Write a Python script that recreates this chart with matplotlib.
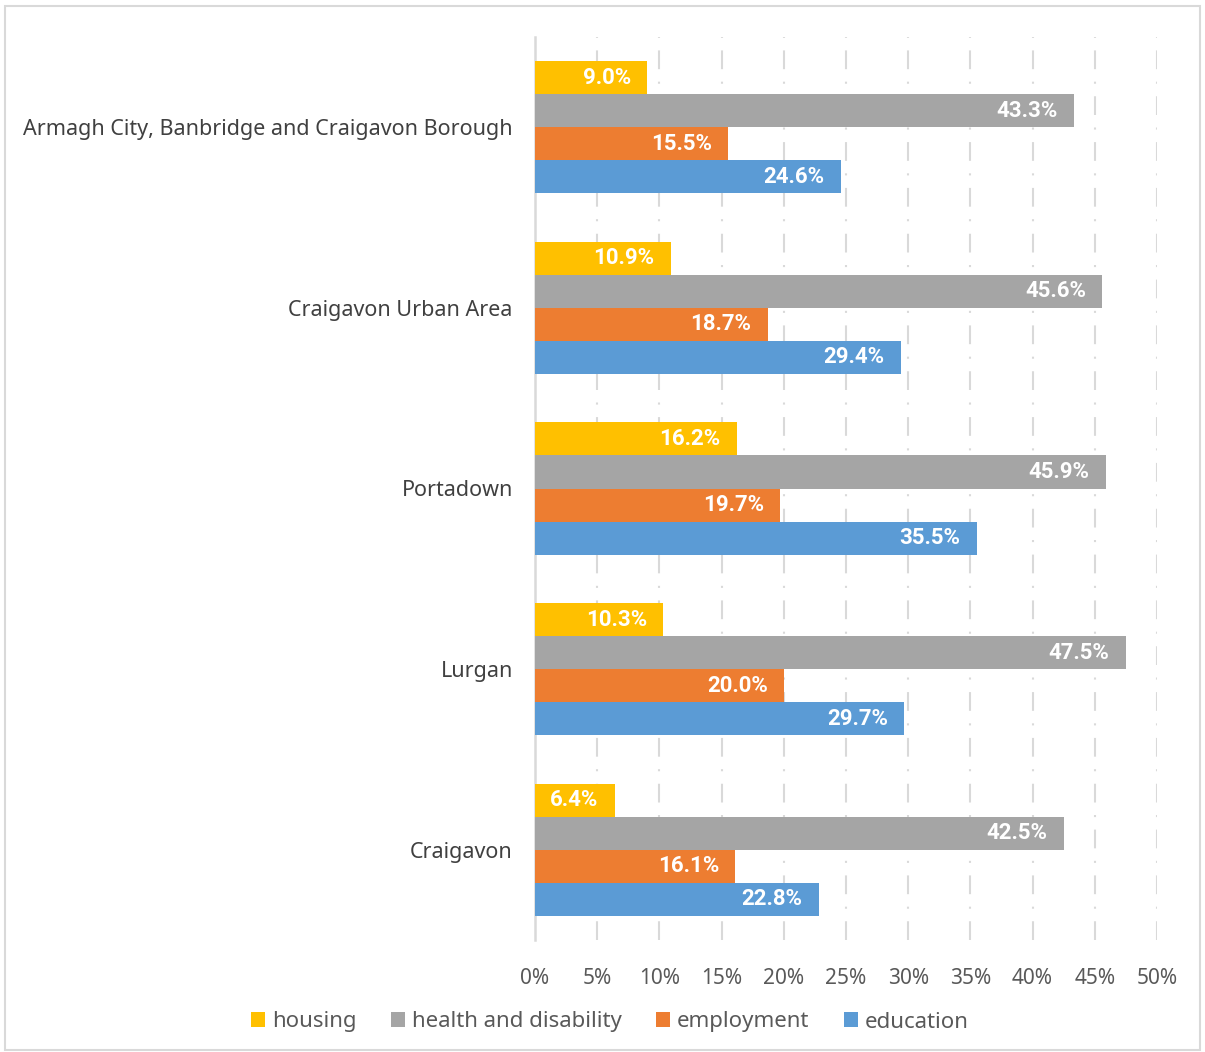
import matplotlib.pyplot as plt
import numpy as np
from matplotlib.patches import Rectangle

plt.rcParams['font.family'] = ['Noto Sans', 'DejaVu Sans']

areas = ['Armagh City, Banbridge and Craigavon Borough', 'Craigavon Urban Area',
         'Portadown', 'Lurgan', 'Craigavon']
series = ['housing', 'health and disability', 'employment', 'education']
housing = [9.0, 10.9, 16.2, 10.3, 6.4]
health = [43.3, 45.6, 45.9, 47.5, 42.5]
employment = [15.5, 18.7, 19.7, 20.0, 16.1]
education = [24.6, 29.4, 35.5, 29.7, 22.8]
colors = ['#ffc000', '#a5a5a5', '#ed7d31', '#5b9bd5']
ticks = [0, 5, 10, 15, 20, 25, 30, 35, 40, 45, 50]


def main():
    fig = plt.figure(figsize=(12.05, 10.52), dpi=100)
    fig.patches.append(Rectangle((5 / 1205, 2 / 1052), 1195 / 1205, 1044 / 1052,
                                 transform=fig.transFigure, fill=False,
                                 edgecolor='#d9d9d9', linewidth=1.5))
    ax = fig.add_axes([535 / 1205, 1 - 940 / 1052, 622 / 1205, 903 / 1052])

    values = [housing, health, employment, education]
    h = 0.183
    y = np.arange(len(areas))
    for i, (vals, col) in enumerate(zip(values, colors)):
        pos = y + (i - 1.5) * h
        bars = ax.barh(pos, vals, height=h, color=col, label=series[i], zorder=3)
        for b, v in zip(bars, vals):
            ax.text(v - 1.3, b.get_y() + b.get_height() / 2, f'{v:.1f}%',
                    ha='right', va='center', color='white', fontsize=16,
                    fontweight='bold', family=['Roboto', 'DejaVu Sans'], zorder=4)

    ax.set_ylim(len(areas) - 0.5, -0.5)
    ax.set_xlim(0, 50)
    ax.set_xticks(ticks)
    ax.set_xticklabels([f'{t}%' for t in ticks])
    ax.set_yticks(y)
    ax.set_yticklabels(areas)
    ax.tick_params(axis='x', length=0, pad=20, labelsize=15, labelcolor='#595959')
    ax.tick_params(axis='y', length=0, pad=16, labelsize=15.5, labelcolor='#404040')
    for t in ticks[1:]:
        ax.axvline(t, color='#d9d9d9', linewidth=1.5,
                   linestyle=(0, (9, 6, 1, 6)), zorder=1)
    for s in ['top', 'right', 'bottom']:
        ax.spines[s].set_visible(False)
    ax.spines['left'].set_color('#d9d9d9')
    ax.spines['left'].set_linewidth(1.8)

    fig.legend(loc='center', bbox_to_anchor=(0.506, 1 - 1022 / 1052), ncol=4,
               frameon=False, fontsize=16, handlelength=0.65, handleheight=0.65,
               handletextpad=0.3, columnspacing=1.55, labelcolor='#595959')

    fig.savefig('out.png', dpi=100)


if __name__ == "__main__":
    main()
